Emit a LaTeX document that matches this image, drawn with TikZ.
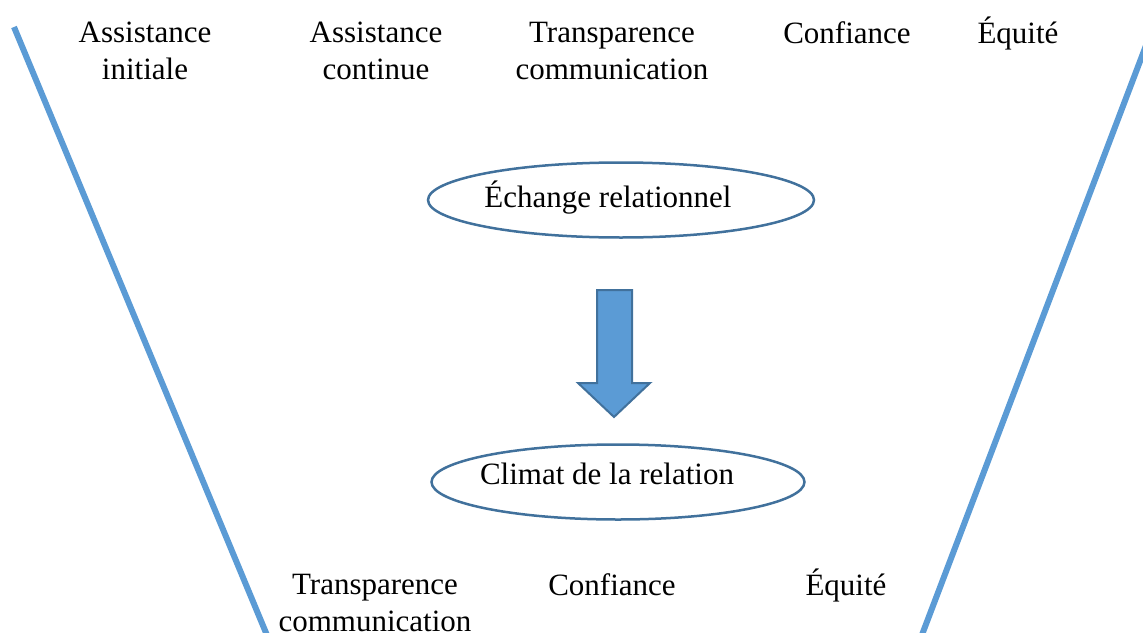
\documentclass[tikz,border=0pt]{standalone}
\usepackage{fontspec}
\setmainfont{Liberation Serif}
\usetikzlibrary{shapes.geometric}
\definecolor{lineblue}{HTML}{5B9BD5}
\definecolor{edgeblue}{HTML}{41719C}
\begin{document}
\begin{tikzpicture}[x=1pt,y=-1pt,
  lbl/.style={align=center,inner sep=0pt,font=\fontsize{31}{37}\selectfont},
  oval/.style={ellipse,draw=edgeblue,line width=2.5pt,minimum width=386pt,minimum height=75pt,inner sep=0pt},
  funnel/.style={draw=lineblue,line width=6pt}]
\useasboundingbox (0,0) rectangle (1143,632);
% funnel lines
\draw[funnel] (14,27) -- (269,640);
\draw[funnel] (1150,35) -- (920,640);
% top labels
\node[lbl] (t1) at (145,51) {Assistance\\initiale};
\node[lbl] (t2) at (376,51) {Assistance\\continue};
\node[lbl] (t3) at (612,51) {Transparence\\communication};
\node[lbl] (t4) at (847,33) {Confiance};
\node[lbl] (t5) at (1018,33) {Équité};
% ellipses
\node[oval] (e1) at (621,200) {};
\node[lbl] (e1t) at (608,198) {Échange relationnel};
\node[oval,minimum width=373pt] (e2) at (618,482) {};
\node[lbl] (e2t) at (607,474) {Climat de la relation};
% block arrow
\draw[fill=lineblue,draw=edgeblue,line width=2pt,line join=miter]
  (597,290) -- (632,290) -- (632,383) -- (650,383) -- (614,417) -- (578,383) -- (597,383) -- cycle;
% bottom labels
\node[lbl] (b1) at (375,603) {Transparence\\communication};
\node[lbl] (b2) at (612,585) {Confiance};
\node[lbl] (b3) at (846,585) {Équité};
\end{tikzpicture}
\end{document}
